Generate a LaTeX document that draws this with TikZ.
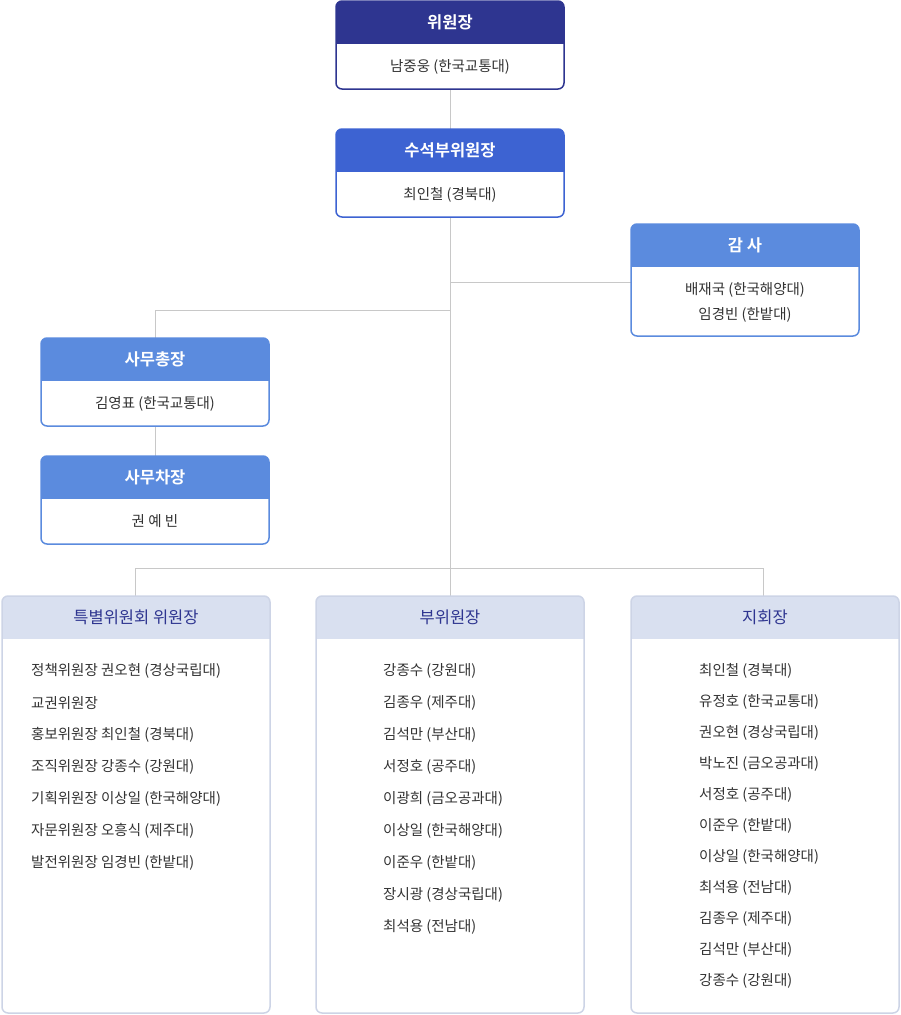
\documentclass[tikz,border=0pt]{standalone}
\usepackage{fontspec}
\setmainfont{Noto Sans CJK KR}
\newfontfamily\krb{Noto Sans CJK KR Bold}
\definecolor{navy}{HTML}{2E3590}
\definecolor{royal}{HTML}{3D63D2}
\definecolor{sky}{HTML}{5B8BDE}
\definecolor{pale}{HTML}{D9E0F0}
\definecolor{paleb}{HTML}{CDD4E6}
\definecolor{ln}{HTML}{C8C8C8}
\definecolor{txt}{HTML}{333333}
\tikzset{conn/.style={draw=ln,line width=0.8pt},
 bodytxt/.style={font=\fontsize{14.5}{18}\selectfont,text=txt,inner sep=0pt},
 lst/.style={font=\fontsize{14.5}{18}\selectfont,text=txt,anchor=west,inner sep=0pt}}
\newcommand{\orgbox}[9]{% name x1 y1 x2 y2 hy fill border title
 \node[minimum width=#4-#2,minimum height=#5-#3,inner sep=0pt] (#1) at ({(#2+#4)/2},{(#3+#5)/2}) {};
 \begin{scope}
 \clip[rounded corners=6pt] (#2,#3) rectangle (#4,#5);
 \fill[white] (#2,#3) rectangle (#4,#5);
 \fill[#7] (#2,#3) rectangle (#4,#6);
 \end{scope}
 \draw[#8,line width=1.5pt,rounded corners=6pt] (#2,#3) rectangle (#4,#5);
 \node[inner sep=0pt] (#1-t) at ({(#2+#4)/2},{(#3+#6)/2}) {#9};
}
\begin{document}
\begin{tikzpicture}[x=1pt,y=-1pt]
\useasboundingbox (0,0) rectangle (900,1015);
\coordinate (c1) at (450,282);
\coordinate (c2) at (450,310);
\coordinate (c3) at (155,310);
\coordinate (c4) at (450,568);
\coordinate (c5) at (135,568);
\coordinate (c6) at (763,568);
\draw[conn] (450,89) -- (450,129);
\draw[conn] (450,217) -- (c4);
\draw[conn] (c1) -- (631,282);
\draw[conn] (c2) -- (c3) -- (155,338);
\draw[conn] (155,426) -- (155,456);
\draw[conn] (c5) -- (c6);
\draw[conn] (c5) -- (135,596);
\draw[conn] (c6) -- (763,596);
\draw[conn] (c4) -- (450,596);
\newcommand{\wt}[1]{\textcolor{white}{\krb\fontsize{16.5}{20}\selectfont #1}}
\newcommand{\nt}[1]{\textcolor{navy}{\fontsize{16.5}{20}\selectfont #1}}
\orgbox{a}{336}{1}{564}{89}{44}{navy}{navy}{\wt{위원장}}
\node[bodytxt] at (450,66.5) {남중웅 (한국교통대)};
\orgbox{b}{336}{129}{564}{217}{172}{royal}{royal}{\wt{수석부위원장}}
\node[bodytxt] at (450,194.5) {최인철 (경북대)};
\orgbox{c}{631}{224}{859}{336}{267}{sky}{sky}{\wt{감 사}}
\node[bodytxt] at (745,290) {배재국 (한국해양대)};
\node[bodytxt] at (745,315) {임경빈 (한밭대)};
\orgbox{d}{41}{338}{269}{426}{381}{sky}{sky}{\wt{사무총장}}
\node[bodytxt] at (155,403.5) {김영표 (한국교통대)};
\orgbox{e}{41}{456}{269}{544}{499}{sky}{sky}{\wt{사무차장}}
\node[bodytxt] at (155,521.5) {권 예 빈};
\orgbox{f}{2}{596}{270}{1013}{639}{pale}{paleb}{\nt{특별위원회 위원장}}
\orgbox{g}{316}{596}{584}{1013}{639}{pale}{paleb}{\nt{부위원장}}
\orgbox{h}{631}{596}{899}{1013}{639}{pale}{paleb}{\nt{지회장}}
\foreach \t [count=\i from 0] in {정책위원장 권오현 (경상국립대),교권위원장,홍보위원장 최인철 (경북대),조직위원장 강종수 (강원대),기획위원장 이상일 (한국해양대),자문위원장 오흥식 (제주대),발전위원장 임경빈 (한밭대)}
 \node[lst] at (31,{671+32*\i}) {\t};
\foreach \t [count=\i from 0] in {강종수 (강원대),김종우 (제주대),김석만 (부산대),서정호 (공주대),이광희 (금오공과대),이상일 (한국해양대),이준우 (한밭대),장시광 (경상국립대),최석용 (전남대)}
 \node[lst] at (383,{671+32*\i}) {\t};
\foreach \t [count=\i from 0] in {최인철 (경북대),유정호 (한국교통대),권오현 (경상국립대),박노진 (금오공과대),서정호 (공주대),이준우 (한밭대),이상일 (한국해양대),최석용 (전남대),김종우 (제주대),김석만 (부산대),강종수 (강원대)}
 \node[lst] at (699,{671+31*\i}) {\t};
\end{tikzpicture}
\end{document}
